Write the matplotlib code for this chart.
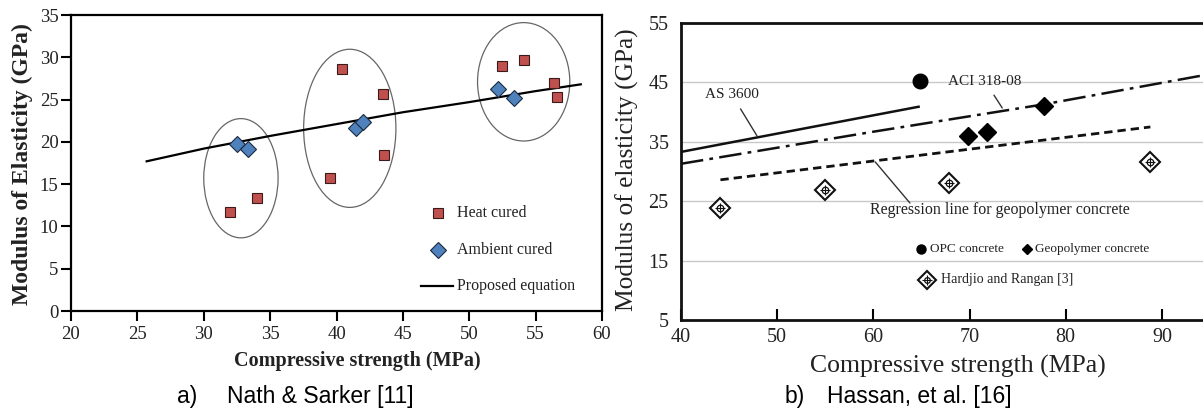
import matplotlib
matplotlib.use("Agg")
import matplotlib.pyplot as plt
from matplotlib.patches import Ellipse

# ---------------- panel (a): Nath & Sarker ----------------
heat_fc = [32.0, 34.0, 39.5, 40.4, 43.5, 43.6, 52.5, 54.1, 56.4, 56.6]
heat_E = [11.7, 13.4, 15.7, 28.6, 25.7, 18.4, 29.0, 29.7, 27.0, 25.3]

ambient_fc = [32.5, 33.3, 41.5, 42.0, 52.2, 53.4]
ambient_E = [19.7, 19.2, 21.6, 22.4, 26.2, 25.2]

proposed_fc = [25.7, 30.0, 35.0, 40.0, 45.0, 50.0, 55.0, 58.4]
proposed_E = [17.7, 19.2, 20.7, 22.1, 23.5, 24.7, 26.0, 26.8]

# groups circled on the chart: centre fc, centre E, width, height
group_fc = [32.8, 41.0, 54.1]
group_E = [15.7, 21.6, 27.1]
group_w = [5.6, 6.95, 6.95]
group_h = [14.1, 18.7, 14.0]

a_xticks = [20, 25, 30, 35, 40, 45, 50, 55, 60]
a_yticks = [0, 5, 10, 15, 20, 25, 30, 35]

# ---------------- panel (b): Hassan et al. ----------------
as3600_fc = [40.0, 64.7]
as3600_E = [33.3, 40.9]

aci_fc = [40.0, 60.0, 77.7, 95.0]
aci_E = [31.3, 36.7, 41.3, 46.4]

regr_fc = [44.1, 88.8]
regr_E = [28.6, 37.5]

opc_fc = [64.8]
opc_E = [45.2]

geo_fc = [69.8, 71.8, 77.7]
geo_E = [36.0, 36.6, 41.0]

hr_fc = [44.1, 55.0, 67.9, 88.8]
hr_E = [23.9, 26.9, 28.1, 31.6]

b_xticks = [40, 50, 60, 70, 80, 90]
b_yticks = [5, 15, 25, 35, 45, 55]

SERIF = "Liberation Serif"
SANS = "Liberation Sans"

W, H = 1203, 412
fig = plt.figure(figsize=(W / 100, H / 100), dpi=100)


def px_box(x0, x1, ytop, ybot):
    return [x0 / W, 1 - ybot / H, (x1 - x0) / W, (ybot - ytop) / H]


# ===== panel (a) =====
ax1 = fig.add_axes(px_box(71, 602, 15, 311))
ax1.set_xlim(20, 60)
ax1.set_ylim(0, 35)
ax1.set_xticks(a_xticks)
ax1.set_yticks(a_yticks)
ax1.set_xticklabels([str(v) for v in a_xticks], fontfamily=SERIF, fontsize=13.5, color="#222222")
ax1.set_yticklabels([str(v) for v in a_yticks], fontfamily=SERIF, fontsize=13.5, color="#222222")
ax1.tick_params(direction="out", length=7, width=1.5, pad=2)
ax1.tick_params(axis="x", pad=4)
for s in ax1.spines.values():
    s.set_linewidth(1.6)
    s.set_color("black")

for cx, cy, w, h in zip(group_fc, group_E, group_w, group_h):
    ax1.add_patch(Ellipse((cx, cy), w, h, fill=False, edgecolor="#666666", linewidth=0.9, zorder=2))

ax1.plot(proposed_fc, proposed_E, color="black", linewidth=1.6, zorder=3)
ax1.plot(heat_fc, heat_E, linestyle="none", marker="s", markersize=7.3,
         markerfacecolor="#C0504D", markeredgecolor="#3a1a1a", markeredgewidth=0.8, zorder=4)
ax1.plot(ambient_fc, ambient_E, linestyle="none", marker="D", markersize=8.2,
         markerfacecolor="#4F81BD", markeredgecolor="#1a2a40", markeredgewidth=0.8, zorder=4)

# legend drawn in axes coordinates
ax1.plot([0.691], [0.331], transform=ax1.transAxes, marker="s", markersize=7.3,
         markerfacecolor="#C0504D", markeredgecolor="#3a1a1a", markeredgewidth=0.8, clip_on=False)
ax1.plot([0.691], [0.206], transform=ax1.transAxes, marker="D", markersize=7.8,
         markerfacecolor="#4F81BD", markeredgecolor="#1a2a40", markeredgewidth=0.8, clip_on=False)
ax1.plot([0.659, 0.719], [0.0845, 0.0845], transform=ax1.transAxes, color="black", linewidth=1.6)
for ty, label in zip([0.331, 0.206, 0.0845], ["Heat cured", "Ambient cured", "Proposed equation"]):
    ax1.text(0.727, ty, label, transform=ax1.transAxes, fontfamily=SERIF, fontsize=11.5,
             va="center", ha="left", color="#222222")

fig.text(357 / W, 1 - 361 / H, "Compressive strength (MPa)", fontfamily=SERIF, fontsize=14.5,
         fontweight="bold", ha="center", va="center", color="#222222")
fig.text(22 / W, 1 - 164 / H, "Modulus of Elasticity (GPa)", fontfamily=SERIF, fontsize=17,
         fontweight="bold", ha="center", va="center", rotation=90, color="#222222")

fig.text(177 / W, 1 - 397 / H, "a)", fontfamily=SANS, fontsize=16.5, ha="left", va="center")
fig.text(227 / W, 1 - 397 / H, "Nath & Sarker [11]", fontfamily=SANS, fontsize=16.5, ha="left", va="center")

# ===== panel (b) =====
ax2 = fig.add_axes(px_box(681, 1210, 23, 320))
ax2.set_xlim(40, 95)
ax2.set_ylim(5, 55)
ax2.set_xticks(b_xticks)
ax2.set_yticks(b_yticks)
ax2.set_xticklabels([str(v) for v in b_xticks], fontfamily=SERIF, fontsize=14.5, color="#222222")
ax2.set_yticklabels([str(v) for v in b_yticks], fontfamily=SERIF, fontsize=14.5, color="#222222")
ax2.tick_params(axis="x", direction="in", length=8, width=1.5, pad=6)
ax2.tick_params(axis="y", length=0, pad=9)
for s in ax2.spines.values():
    s.set_linewidth(2.0)
    s.set_color("#111111")
for yv in b_yticks[1:-1]:
    ax2.axhline(yv, color="#c8c8c8", linewidth=1.0, zorder=0)

ax2.plot(as3600_fc, as3600_E, color="#111111", linewidth=1.8, zorder=3)
ax2.plot(aci_fc, aci_E, color="#111111", linewidth=1.8, dashes=(9, 2.5, 1.5, 2.5), zorder=3)
ax2.plot(regr_fc, regr_E, color="#111111", linewidth=2.0, dashes=(3, 1.8), zorder=3)

ax2.plot(opc_fc, opc_E, linestyle="none", marker="o", markersize=10.5, color="black", zorder=4)
ax2.plot(geo_fc, geo_E, linestyle="none", marker="D", markersize=9.5, color="black", zorder=4)


def hr_marker(ax, xs, ys, size, **kw):
    ax.plot(xs, ys, linestyle="none", marker="D", markersize=size, markerfacecolor="white",
            markeredgecolor="#111111", markeredgewidth=1.5, zorder=4, **kw)
    ax.plot(xs, ys, linestyle="none", marker="o", markersize=size * 0.45, markerfacecolor="none",
            markeredgecolor="#111111", markeredgewidth=0.9, zorder=5, **kw)
    ax.plot(xs, ys, linestyle="none", marker="+", markersize=size * 0.75, markeredgecolor="#111111",
            markeredgewidth=0.8, zorder=5, **kw)


hr_marker(ax2, hr_fc, hr_E, 10.5)

# line labels with leader lines
ax2.annotate("AS 3600", xy=(47.9, 36.0), xytext=(45.3, 42.9), fontfamily=SERIF, fontsize=11,
             ha="center", va="center", color="#222222",
             arrowprops=dict(arrowstyle="-", color="#333333", linewidth=1.0, shrinkA=4, shrinkB=0))
ax2.annotate("ACI 318-08", xy=(73.4, 40.7), xytext=(71.6, 45.2), fontfamily=SERIF, fontsize=11,
             ha="center", va="center", color="#222222",
             arrowprops=dict(arrowstyle="-", color="#333333", linewidth=1.0, shrinkA=4, shrinkB=0))
ax2.annotate("", xy=(60.2, 31.6), xytext=(63.8, 24.7),
             arrowprops=dict(arrowstyle="-", color="#333333", linewidth=1.0, shrinkA=0, shrinkB=0))
ax2.text(59.65, 23.5, "Regression line for geopolymer concrete", fontfamily=SERIF, fontsize=11.5,
         ha="left", va="center", color="#222222")

# legend in axes coordinates
ax2.plot([0.4537], [0.239], transform=ax2.transAxes, marker="o", markersize=6.5, color="black")
ax2.text(0.4707, 0.239, "OPC concrete", transform=ax2.transAxes, fontfamily=SERIF, fontsize=9.5,
         ha="left", va="center", color="#222222")
ax2.plot([0.654], [0.239], transform=ax2.transAxes, marker="D", markersize=5.5, color="black")
ax2.text(0.669, 0.239, "Geopolymer concrete", transform=ax2.transAxes, fontfamily=SERIF, fontsize=9.5,
         ha="left", va="center", color="#222222")
hr_marker(ax2, [0.465], [0.1347], 9, transform=ax2.transAxes)
ax2.text(0.4915, 0.1347, "Hardjio and Rangan [3]", transform=ax2.transAxes, fontfamily=SERIF,
         fontsize=10, ha="left", va="center", color="#222222")

fig.text(958 / W, 1 - 366 / H, "Compressive strength (MPa)", fontfamily=SERIF, fontsize=18.5,
         ha="center", va="center", color="#222222")
fig.text(627 / W, 1 - 170 / H, "Modulus of elasticity (GPa)", fontfamily=SERIF, fontsize=18.3,
         ha="center", va="center", rotation=90, color="#222222")

fig.text(785 / W, 1 - 397 / H, "b)", fontfamily=SANS, fontsize=16.5, ha="left", va="center")
fig.text(827 / W, 1 - 397 / H, "Hassan, et al. [16]", fontfamily=SANS, fontsize=16.5, ha="left", va="center")

fig.savefig("out.png", dpi=100)
